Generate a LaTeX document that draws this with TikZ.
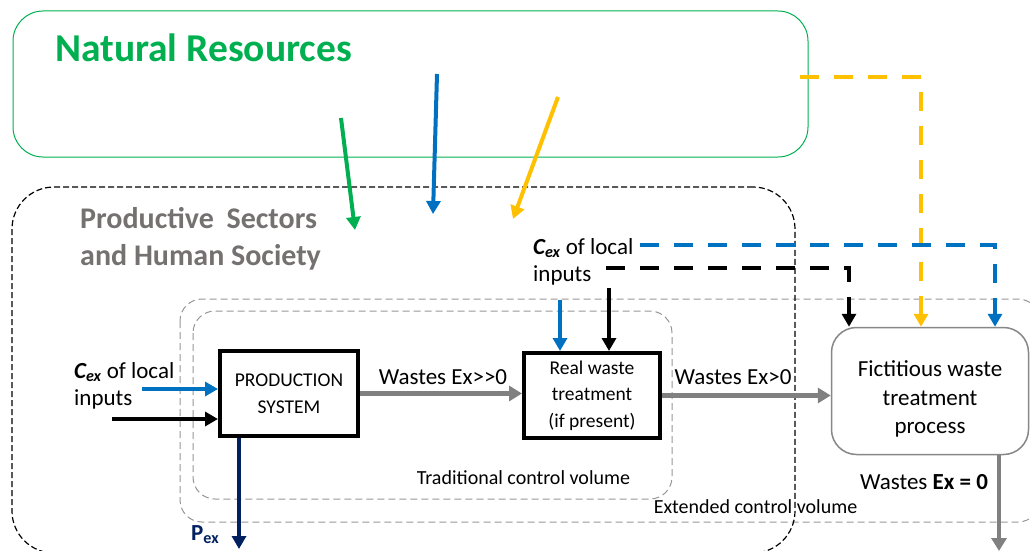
\documentclass[tikz,border=0pt]{standalone}
\usepackage{fontspec}
\setmainfont{Carlito}
\usetikzlibrary{arrows.meta,calc}
\definecolor{ResClr}{RGB}{0,176,80}
\definecolor{InClr}{RGB}{0,112,192}
\definecolor{EnClr}{RGB}{255,192,0}
\definecolor{PexClr}{RGB}{0,32,96}
\definecolor{SocClr}{RGB}{118,113,113}
\definecolor{WasteClr}{RGB}{128,128,128}
\definecolor{VolClr}{RGB}{150,150,150}
\newcommand{\PxFont}[2]{\fontsize{#1pt}{#2pt}\selectfont}
\newcommand{\Cex}{\textbf{\textit{C\textsubscript{ex}}}}

\begin{document}
\begin{tikzpicture}[x=1pt,y=-1pt,
  flow/.style={line width=4pt,-{Triangle[length=13pt,width=14pt]}},
  dflow/.style={flow,dash pattern=on 19pt off 15pt},
  waste/.style={line width=4.5pt,WasteClr,-{Triangle[length=13pt,width=15pt]}},
  blk/.style={draw,line width=4pt,align=center,inner sep=0pt,font=\PxFont{19.5}{26.5}},
  vol/.style={draw=VolClr,line width=1pt,dash pattern=on 7pt off 4pt,rounded corners=22pt},
  txt/.style={inner sep=0pt,align=left,font=\PxFont{23}{27}}]

\useasboundingbox (0,0) rectangle (1030,551);
\clip (0,0) rectangle (1030,551);

\coordinate (gA) at (341,118);
\coordinate (gB) at (355,230);
\coordinate (bA) at (437,74);
\coordinate (bB) at (433,214);
\coordinate (yA) at (558,97);
\coordinate (yB) at (513,219);
\coordinate (yD) at (800,77);
\coordinate (yC) at (921,77);
\coordinate (bD) at (640,245);
\coordinate (bC) at (995,245);
\coordinate (kD) at (606,268);
\coordinate (kC) at (849,268);
\coordinate (inB) at (142,389);
\coordinate (inK) at (112,419);
\coordinate (tB) at (560,300);
\coordinate (tK) at (609,288);
\coordinate (pex) at (239,549);
\coordinate (wout) at (999,551);

\draw[vol] (180,299) rectangle (1040,522);
\draw[vol] (193,311) rectangle (672,499);

\node[draw=ResClr,line width=1pt,rounded corners=30pt,minimum width=795pt,minimum height=146pt] (nat) at (410.5,84) {};
\node[text=ResClr,inner sep=0pt,font=\bfseries\PxFont{39.5}{47},anchor=base west] (natlbl) at (55,62) {Natural Resources};

\node[draw,line width=1.2pt,dash pattern=on 6pt off 3pt,rounded corners=42pt,minimum width=783pt,minimum height=366pt] (soc) at (403.5,370) {};
\node[txt,text=SocClr,font=\bfseries\PxFont{30}{37},anchor=north west] (soclbl) at (80,207) {Productive\hspace{0.2em} Sectors\\and Human Society};

\node[blk,minimum width=138pt,minimum height=85pt] (prod) at (289,393.5) {PRODUCTION\\SYSTEM};
\node[blk,minimum width=136pt,minimum height=85pt] (real) at (592,395.5) {Real waste\\treatment\\(if present)};
\node[draw=VolClr!90!black,fill=white,line width=1.5pt,rounded corners=25pt,minimum width=197pt,minimum height=127pt,align=center,font=\PxFont{23}{28.5}] (fict) at (930,391) {\rule{0pt}{32pt}Fictitious waste\\treatment\\process};

\node[txt,anchor=north west] (cexl) at (74,362) {\Cex{} of local\\inputs};
\node[txt,anchor=north west] (cext) at (533,238) {\Cex{} of local\\inputs};
\node[txt,anchor=base] (w1) at (443,384.5) {Wastes Ex>{}>0};
\node[txt,anchor=base] (w2) at (733,384) {Wastes Ex>0};
\node[txt,anchor=base] (w3) at (924,489.5) {Wastes \textbf{Ex = 0}};
\node[txt,font=\PxFont{20}{24},anchor=base] (tcv) at (523.5,484.5) {Traditional control volume};
\node[txt,font=\PxFont{20}{24},anchor=base] (ecv) at (755.5,513.5) {Extended control volume};
\node[txt,text=PexClr,font=\bfseries\PxFont{23}{27},anchor=base west] (pexlbl) at (191,540) {P\textsubscript{ex}};

\draw[flow,ResClr] (gA) -- (gB);
\draw[flow,InClr] (bA) -- (bB);
\draw[flow,EnClr] (yA) -- (yB);
\draw[dflow,EnClr] (yD) -- (yC) -- (yC |- fict.north);
\draw[dflow,InClr] (bD) -- (bC) -- (bC |- fict.north);
\draw[dflow] (kD) -- (kC) -- (kC |- fict.north);
\draw[flow,InClr] (inB) -- (inB -| prod.west);
\draw[flow] (inK) -- (inK -| prod.west);
\draw[flow,InClr] (tB) -- (tB |- real.north);
\draw[flow] (tK) -- (tK |- real.north);
\draw[flow,PexClr] (pex |- prod.south) -- (pex);
\draw[waste] (prod.east) -- (prod.east -| real.west);
\draw[waste] (real.east) -- (real.east -| fict.west);
\draw[waste] (wout |- fict.south) -- (wout);

\end{tikzpicture}
\end{document}
